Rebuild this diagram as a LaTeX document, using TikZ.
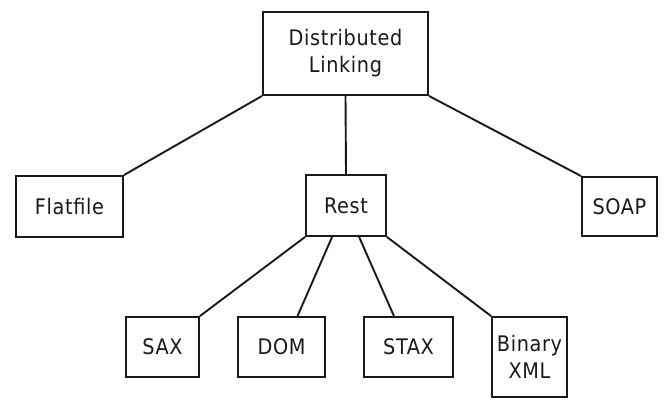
\documentclass[tikz,border=0pt]{standalone}
\usepackage{fontspec}
\setmainfont{DejaVu Sans Condensed}[LetterSpace=3]
\usetikzlibrary{calc}
\begin{document}
\begin{tikzpicture}[x=1bp,y=-1bp,
  box/.style={draw=black!90,line width=1.9bp,inner sep=0pt,align=center,
    font=\fontsize{21.5}{27}\selectfont,text=black!90},
  link/.style={draw=black!90,line width=1.9bp}]
\useasboundingbox (0,0) rectangle (670,401);
\node[box,minimum width=165bp,minimum height=83bp] (dl) at (345.5,53.5) {Distributed\\Linking};
\node[box,minimum width=107bp,minimum height=61bp] (flat) at (69.5,206.5) {Flatfile};
\node[box,minimum width=80bp,minimum height=61bp] (rest) at (346,205.5) {Rest};
\node[box,minimum width=75bp,minimum height=59bp] (soap) at (619.5,206.5) {SOAP};
\node[box,minimum width=73bp,minimum height=60bp] (sax) at (162.5,347) {SAX};
\node[box,minimum width=87bp,minimum height=60bp] (dom) at (281.5,347) {DOM};
\node[box,minimum width=89bp,minimum height=60bp] (stax) at (408.5,347) {STAX};
\node[box,minimum width=75bp,minimum height=80bp] (bxml) at (529.5,357) {Binary\\XML};
\draw[link] (dl.south west) -- (flat.north east);
\draw[link] (dl.south) -- (rest.north);
\draw[link] (dl.south east) -- (soap.north west);
\draw[link] (rest.south west) -- (sax.north east);
\draw[link] ($(rest.south west)!0.33!(rest.south east)$) -- ($(dom.north west)!0.68!(dom.north east)$);
\draw[link] ($(rest.south west)!0.66!(rest.south east)$) -- ($(stax.north west)!0.34!(stax.north east)$);
\draw[link] (rest.south east) -- (bxml.north west);
\end{tikzpicture}
\end{document}
